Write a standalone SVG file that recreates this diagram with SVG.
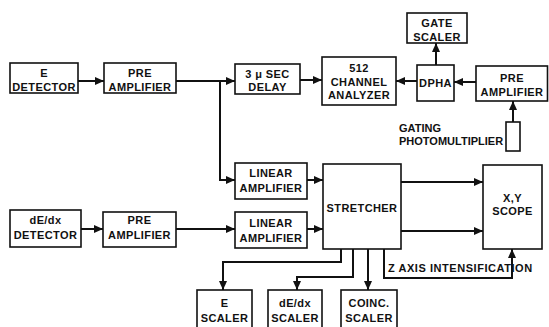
<svg xmlns="http://www.w3.org/2000/svg" width="549" height="327" viewBox="0 0 549 327">
<defs>
<marker id="ah" markerUnits="userSpaceOnUse" markerWidth="10" markerHeight="10" refX="9" refY="4" orient="auto">
<path d="M0,0 L9,4 L0,8 Z" fill="#111"/>
</marker>
<style>
.b{fill:#fff;stroke:#111;stroke-width:1.6}
.t{font-family:"Liberation Sans",Arial,sans-serif;font-weight:bold;font-size:11px;fill:#111;text-anchor:middle;letter-spacing:0.4px}
.l{font-family:"Liberation Sans",Arial,sans-serif;font-weight:bold;font-size:11px;fill:#111}
.c{fill:none;stroke:#111;stroke-width:2}
.a{marker-end:url(#ah)}
</style>
</defs>
<rect width="549" height="327" fill="#fff"/>
<g id="connectors">
<path class="c a" d="M78,81 H104"/>
<path class="c a" d="M176,81 H235"/>
<path class="c a" d="M220,81 V180 H235"/>
<path class="c a" d="M300,80 H322"/>
<path class="c a" d="M417,81 H396"/>
<path class="c a" d="M476,82 H454"/>
<path class="c a" d="M436,65 V43"/>
<path class="c a" d="M513,122 V101"/>
<path class="c a" d="M81,229 H103"/>
<path class="c a" d="M176,229 H235"/>
<path class="c a" d="M307,180 H323"/>
<path class="c a" d="M307,229 H323"/>
<path class="c a" d="M401,182 H483"/>
<path class="c a" d="M401,231 H483"/>
<path class="c a" d="M341,249 V262 H223 V290"/>
<path class="c a" d="M353,249 V277 H297 V290"/>
<path class="c a" d="M368,249 V290"/>
<path class="c a" d="M384,249 V278 H512 V249"/>
</g>
<g id="e-detector"><rect class="b" x="10" y="63" width="68" height="30"/><text class="t" x="44" y="77">E</text><text class="t" x="44" y="91">DETECTOR</text></g>
<g id="pre-amp-1"><rect class="b" x="104" y="63" width="72" height="30"/><text class="t" x="140" y="77">PRE</text><text class="t" x="140" y="91">AMPLIFIER</text></g>
<g id="delay"><rect class="b" x="235" y="64" width="65" height="30"/><text class="t" x="267.5" y="78">3 μ SEC</text><text class="t" x="267.5" y="91">DELAY</text></g>
<g id="analyzer"><rect class="b" x="322" y="57" width="74" height="48"/><text class="t" x="359" y="72">512</text><text class="t" x="359" y="86">CHANNEL</text><text class="t" x="359" y="99">ANALYZER</text></g>
<g id="dpha"><rect class="b" x="417" y="65" width="37" height="36"/><text class="t" x="435.5" y="87">DPHA</text></g>
<g id="gate-scaler"><rect class="b" x="407" y="13" width="60" height="30"/><text class="t" x="437" y="27">GATE</text><text class="t" x="437" y="41">SCALER</text></g>
<g id="pre-amp-3"><rect class="b" x="476" y="66" width="71.5" height="35"/><text class="t" x="512" y="82">PRE</text><text class="t" x="512" y="96">AMPLIFIER</text></g>
<g id="photomultiplier"><rect class="b" x="506" y="122" width="14" height="29"/><text class="l" x="399" y="132">GATING</text><text class="l" x="399" y="145">PHOTOMULTIPLIER</text></g>
<g id="linear-amp-1"><rect class="b" x="235" y="163" width="72" height="36"/><text class="t" x="271" y="177">LINEAR</text><text class="t" x="271" y="192">AMPLIFIER</text></g>
<g id="dedx-detector"><rect class="b" x="10" y="210" width="71" height="37"/><text class="t" x="45.5" y="224">dE/dx</text><text class="t" x="45.5" y="239">DETECTOR</text></g>
<g id="pre-amp-2"><rect class="b" x="103" y="212" width="73" height="35"/><text class="t" x="139.5" y="224">PRE</text><text class="t" x="139.5" y="239">AMPLIFIER</text></g>
<g id="linear-amp-2"><rect class="b" x="235" y="212" width="72" height="36"/><text class="t" x="271" y="227">LINEAR</text><text class="t" x="271" y="242">AMPLIFIER</text></g>
<g id="stretcher"><rect class="b" x="323" y="164" width="78" height="85"/><text class="t" x="362" y="212">STRETCHER</text></g>
<g id="scope"><rect class="b" x="483" y="165" width="59" height="84"/><text class="t" x="512.5" y="202">X,Y</text><text class="t" x="512.5" y="215">SCOPE</text></g>
<g id="z-axis-label"><text class="l" x="388" y="272" letter-spacing="0.55">Z AXIS INTENSIFICATION</text></g>
<g id="e-scaler"><rect class="b" x="197" y="290" width="55" height="40"/><text class="t" x="224.5" y="307">E</text><text class="t" x="224.5" y="322">SCALER</text></g>
<g id="dedx-scaler"><rect class="b" x="268" y="290" width="54" height="40"/><text class="t" x="295" y="307">dE/dx</text><text class="t" x="295" y="322">SCALER</text></g>
<g id="coinc-scaler"><rect class="b" x="341" y="290" width="56" height="40"/><text class="t" x="369" y="307">COINC.</text><text class="t" x="369" y="322">SCALER</text></g>
</svg>
